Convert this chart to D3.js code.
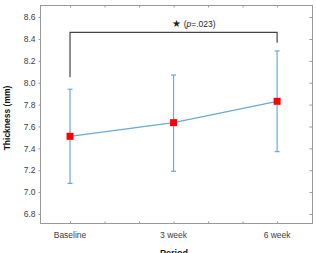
<!DOCTYPE html>
<html>
<head>
<meta charset="utf-8">
<script src="https://cdn.jsdelivr.net/npm/d3@7"></script>
<style>
  body { margin: 0; background: #fff; }
  text { font-family: "Liberation Sans", Arial, sans-serif; }
</style>
</head>
<body>
<div id="chart"></div>
<script>
var periods = ["Baseline", "3 week", "6 week"];
var weeks = [0, 3, 6];
var means = [7.51, 7.635, 7.83];
var upper = [7.94, 8.07, 8.29];
var lower = [7.08, 7.19, 7.37];
var yTicks = [6.8, 7.0, 7.2, 7.4, 7.6, 7.8, 8.0, 8.2, 8.4, 8.6];
var xTicks = [0, 1, 2, 3, 4, 5, 6];
var bracket = { from: 0, to: 6, top: 8.46, leftEnd: 8.05, rightEnd: 8.365 };

var W = 317, H = 253;
var m = { left: 40, right: 4, top: 5, bottom: 30 };

var svg = d3.select("#chart").append("svg")
    .attr("width", W)
    .attr("height", H);

var x = d3.scaleLinear().domain([-0.87, 7.04]).range([m.left, W - m.right]);
var y = d3.scaleLinear().domain([6.718, 8.71]).range([H - m.bottom, m.top]);

var axisColor = "#999";

// frame
svg.append("rect")
    .attr("x", m.left + 0.5)
    .attr("y", m.top + 0.5)
    .attr("width", W - m.left - m.right - 1)
    .attr("height", H - m.top - m.bottom)
    .attr("fill", "none")
    .attr("stroke", axisColor)
    .attr("stroke-width", 1);

// left axis, ticks outward
var yAxis = svg.append("g")
    .attr("transform", "translate(" + (m.left + 0.5) + ",0)")
    .call(d3.axisLeft(y).tickValues(yTicks).tickFormat(d3.format(".1f")).tickSize(2).tickPadding(3));
yAxis.select(".domain").remove();
yAxis.selectAll("line").attr("stroke", axisColor);
yAxis.selectAll("text").attr("fill", "#404040").style("font-size", "8.5px");

// right axis ticks inward
svg.append("g")
    .attr("transform", "translate(" + (W - m.right - 0.5) + ",0)")
    .call(d3.axisRight(y).tickValues(yTicks).tickSize(-3).tickFormat(""))
    .call(function(g) { g.select(".domain").remove(); g.selectAll("line").attr("stroke", axisColor); });

// bottom axis ticks inward
var xAxis = svg.append("g")
    .attr("transform", "translate(0," + (H - m.bottom + 0.5) + ")")
    .call(d3.axisBottom(x).tickValues(xTicks).tickSize(-2).tickFormat(""));
xAxis.select(".domain").remove();
xAxis.selectAll("line").attr("stroke", axisColor);

// top axis ticks inward
svg.append("g")
    .attr("transform", "translate(0," + (m.top + 0.5) + ")")
    .call(d3.axisTop(x).tickValues(xTicks).tickSize(-2).tickFormat(""))
    .call(function(g) { g.select(".domain").remove(); g.selectAll("line").attr("stroke", axisColor); });

// category labels
svg.append("g").selectAll("text")
    .data(periods)
    .join("text")
    .attr("x", function(d, i) { return x(weeks[i]); })
    .attr("y", H - m.bottom + 15)
    .attr("text-anchor", "middle")
    .attr("fill", "#404040")
    .style("font-size", "8.5px")
    .text(function(d) { return d; });

// axis titles
svg.append("text")
    .attr("transform", "translate(10," + 118 + ") rotate(-90)")
    .attr("text-anchor", "middle")
    .style("font-size", "8.5px")
    .style("font-weight", "bold")
    .attr("fill", "#111")
    .text("Thickness (mm)");

svg.append("text")
    .attr("x", 174)
    .attr("y", 256)
    .attr("text-anchor", "middle")
    .style("font-size", "9px")
    .style("font-weight", "bold")
    .attr("fill", "#111")
    .text("Period");

// significance bracket
var bPath = d3.path();
bPath.moveTo(x(bracket.from), y(bracket.leftEnd));
bPath.lineTo(x(bracket.from), y(bracket.top));
bPath.lineTo(x(bracket.to), y(bracket.top));
bPath.lineTo(x(bracket.to), y(bracket.rightEnd));
svg.append("path")
    .attr("d", bPath.toString())
    .attr("fill", "none")
    .attr("stroke", "#444")
    .attr("stroke-width", 1.2);

var ann = svg.append("text")
    .attr("x", 194)
    .attr("y", 27)
    .attr("text-anchor", "middle")
    .attr("fill", "#222")
    .style("font-size", "8.5px");
ann.append("tspan").style("font-size", "10px").text("\u2605");
ann.append("tspan").text(" (");
ann.append("tspan").style("font-style", "italic").text("p");
ann.append("tspan").text("=.023)");

var lineColor = "#6aaad6";

// error bars
var eb = svg.append("g").attr("stroke", lineColor).attr("stroke-width", 1.2);
eb.selectAll(".v").data(weeks).join("line")
    .attr("x1", function(d) { return x(d); })
    .attr("x2", function(d) { return x(d); })
    .attr("y1", function(d, i) { return y(lower[i]); })
    .attr("y2", function(d, i) { return y(upper[i]); });
eb.selectAll(".ct").data(weeks).join("line")
    .attr("x1", function(d) { return x(d) - 2.5; })
    .attr("x2", function(d) { return x(d) + 2.5; })
    .attr("y1", function(d, i) { return y(upper[i]); })
    .attr("y2", function(d, i) { return y(upper[i]); });
eb.selectAll(".cb").data(weeks).join("line")
    .attr("x1", function(d) { return x(d) - 2.5; })
    .attr("x2", function(d) { return x(d) + 2.5; })
    .attr("y1", function(d, i) { return y(lower[i]); })
    .attr("y2", function(d, i) { return y(lower[i]); });

// mean line
svg.append("path")
    .datum(weeks)
    .attr("d", d3.line()
        .x(function(d) { return x(d); })
        .y(function(d, i) { return y(means[i]); }))
    .attr("fill", "none")
    .attr("stroke", lineColor)
    .attr("stroke-width", 1.2);

// markers
svg.append("g").selectAll("rect")
    .data(weeks)
    .join("rect")
    .attr("x", function(d) { return x(d) - 3.5; })
    .attr("y", function(d, i) { return y(means[i]) - 3.5; })
    .attr("width", 7)
    .attr("height", 7)
    .attr("fill", "#f00");
</script>
</body>
</html>
